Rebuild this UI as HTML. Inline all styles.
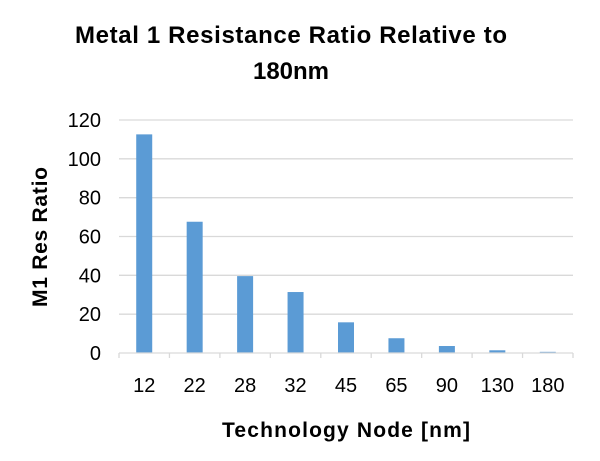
<!DOCTYPE html>
<html><head><meta charset="utf-8"><style>
body{margin:0;background:#fff;}
svg{display:block;font-family:"Liberation Sans",Arial,sans-serif;}
</style></head><body>
<svg id="chart" width="600" height="461">
<text x="291" y="43" text-anchor="middle" font-size="24" font-weight="bold" fill="#000" textLength="432">Metal 1 Resistance Ratio Relative to</text>
<text x="291" y="79" text-anchor="middle" font-size="24" font-weight="bold" fill="#000">180nm</text>
<text transform="translate(47,237) rotate(-90)" text-anchor="middle" font-size="21" font-weight="bold" fill="#000" textLength="140">M1 Res Ratio</text>
<text x="346" y="437" text-anchor="middle" font-size="21" font-weight="bold" fill="#000" textLength="248">Technology Node [nm]</text>
<g id="grid"></g><g id="bars"></g><g id="axis"></g>
</svg>
<script>
const categories=["12","22","28","32","45","65","90","130","180"];
const values=[112.6,67.6,39.6,31.4,15.8,7.6,3.6,1.4,0.6];
const yTicks=[0,20,40,60,80,100,120];
const NS="http://www.w3.org/2000/svg";
const x0=119,x1=573,yTop=120,yBot=353,yMax=120;
const bw=(x1-x0)/categories.length;
function y(v){return yBot-(v/yMax)*(yBot-yTop);}
function xc(i){return x0+bw*(i+0.5);}
function mk(t,a,p){const e=document.createElementNS(NS,t);for(const k in a)e.setAttribute(k,a[k]);p.appendChild(e);return e;}
const g=document.getElementById('grid'),b=document.getElementById('bars'),ax=document.getElementById('axis');
yTicks.forEach(t=>{
 if(t>0){const l=mk('line',{x1:x0,x2:x1,y1:y(t),y2:y(t),stroke:'#d9d9d9','stroke-width':1.3},g);
 
 }
 const tx=mk('text',{x:101,y:y(t)+7,'text-anchor':'end','font-size':20,fill:'#000'},g);
 tx.textContent=t;
 
 
});
const base=mk('line',{x1:x0,x2:x1,y1:yBot,y2:yBot,stroke:'#d9d9d9','stroke-width':1.3},ax);


for(let i=0;i<=categories.length;i++){
 const tk=mk('line',{x1:x0+bw*i,x2:x0+bw*i,y1:yBot,y2:yBot+5,stroke:'#d9d9d9','stroke-width':1.3},ax);
 
 
}
categories.forEach((c,i)=>{
 const r=mk('rect',{x:xc(i)-8,y:y(values[i]),width:16,height:yBot-y(values[i]),fill:'#5b9bd5'},b);
 
 
 const t=mk('text',{x:xc(i),y:392,'text-anchor':'middle','font-size':20,fill:'#000'},ax);
 t.textContent=c;
 
 
});
</script>
</body></html>
